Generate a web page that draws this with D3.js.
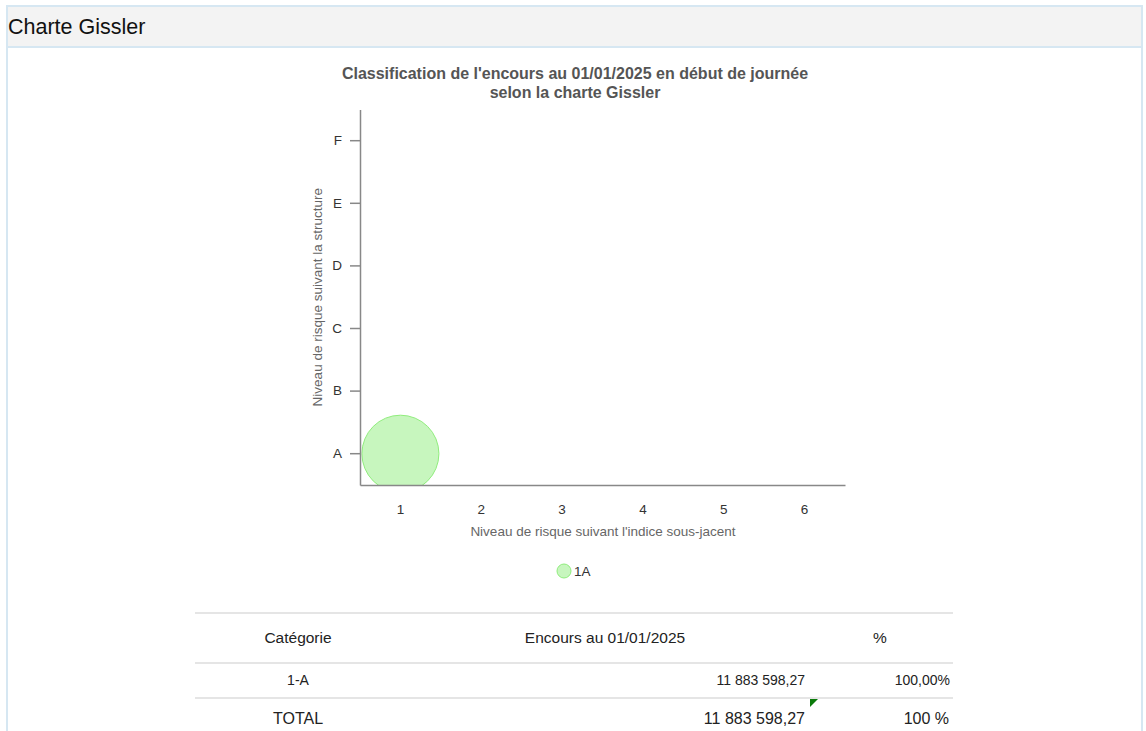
<!DOCTYPE html>
<html>
<head>
<meta charset="utf-8">
<script src="https://cdn.jsdelivr.net/npm/d3@7/dist/d3.min.js"></script>
<style>
  html, body { margin: 0; padding: 0; background: #fff; font-family: "Liberation Sans", Arial, sans-serif; }
  #panel { position: absolute; left: 6px; top: 5px; width: 1137px; height: 740px; border: 2px solid #d6e7f2; border-bottom: none; box-sizing: border-box; }
  #header { height: 39px; background: #f3f3f3; border-bottom: 2px solid #d6e7f2; font-size: 21.5px; color: #111; line-height: 40px; }
  #header span { position: relative; left: 0px; }
  svg { position: absolute; left: 0; top: 0; font-family: "Liberation Sans", Arial, sans-serif; }
</style>
</head>
<body>
<div id="panel"><div id="header"><span>Charte Gissler</span></div></div>
<svg id="chart" width="1146" height="731"></svg>
<script>
const titleLines = ["Classification de l'encours au 01/01/2025 en début de journée", "selon la charte Gissler"];
const xCategories = ["1", "2", "3", "4", "5", "6"];
const yCategories = ["A", "B", "C", "D", "E", "F"];
const xTitle = "Niveau de risque suivant l'indice sous-jacent";
const yTitle = "Niveau de risque suivant la structure";
const bubbleNames = ["1A"];
const bubbleX = ["1"];
const bubbleY = ["A"];
const bubbleValues = [11883598.27];
const tableHeaders = ["Catégorie", "Encours au 01/01/2025", "%"];
const tableCategories = ["1-A"];
const tableAmounts = ["11 883 598,27"];
const tablePercents = ["100,00%"];
const totalLabel = "TOTAL";
const totalAmount = "11 883 598,27";
const totalPercent = "100 %";

const FONT = "Liberation Sans, Arial, sans-serif";
const svg = d3.select("#chart");
const plot = { left: 360, right: 845, top: 109.4, bottom: 485 };

// Title
svg.append("g").selectAll("text").data(titleLines).join("text")
  .attr("x", 575).attr("y", (d, i) => 79 + i * 19)
  .attr("text-anchor", "middle").attr("font-size", 16).attr("font-weight", "bold")
  .attr("fill", "#555").text(d => d);

const x = d3.scaleBand().domain(xCategories).range([plot.left, plot.right]);
const y = d3.scaleBand().domain(yCategories).range([plot.bottom, plot.top]);
const r = d3.scaleSqrt().domain([0, d3.max(bubbleValues)]).range([0, 38.5]);

svg.append("clipPath").attr("id", "clip").append("rect")
  .attr("x", plot.left).attr("y", plot.top).attr("width", plot.right - plot.left).attr("height", plot.bottom - plot.top);

svg.append("g").attr("clip-path", "url(#clip)").selectAll("circle").data(bubbleValues).join("circle")
  .attr("cx", (d, i) => x(bubbleX[i]) + x.bandwidth() / 2)
  .attr("cy", (d, i) => y(bubbleY[i]) + y.bandwidth() / 2)
  .attr("r", d => r(d))
  .attr("fill", "#90ed7d").attr("fill-opacity", 0.5)
  .attr("stroke", "#90ed7d").attr("stroke-width", 1);

// X axis
const xAxis = svg.append("g").attr("transform", `translate(0,${plot.bottom})`)
  .call(d3.axisBottom(x).tickSize(0).tickPadding(19));
xAxis.select(".domain").attr("stroke", "#888").attr("stroke-width", 1.5);
xAxis.selectAll("text").attr("font-size", 13.5).attr("fill", "#333").attr("font-family", FONT);

// Y axis
const yAxis = svg.append("g").attr("transform", `translate(${plot.left},0)`)
  .call(d3.axisLeft(y).tickSize(10).tickPadding(8).tickSizeOuter(0));
yAxis.select(".domain").attr("stroke", "#888").attr("stroke-width", 1.5);
yAxis.selectAll(".tick line").attr("stroke", "#888").attr("stroke-width", 1.5);
yAxis.selectAll("text").attr("font-size", 13.5).attr("fill", "#333").attr("font-family", FONT);

// Axis titles
svg.append("text").attr("x", 603).attr("y", 536).attr("text-anchor", "middle")
  .attr("font-size", 13.5).attr("fill", "#666").text(xTitle);
svg.append("text").attr("transform", `translate(322,${(plot.top + plot.bottom) / 2}) rotate(-90)`)
  .attr("text-anchor", "middle").attr("font-size", 13.5).attr("fill", "#666").text(yTitle);

// Legend
const lg = svg.append("g").selectAll("g").data(bubbleNames).join("g")
  .attr("transform", "translate(564,571)");
lg.append("circle").attr("r", 7).attr("fill", "#90ed7d").attr("fill-opacity", 0.5).attr("stroke", "#90ed7d");
lg.append("text").attr("x", 10).attr("y", 5).attr("font-size", 13.5).attr("fill", "#333").text(d => d);

// Table
const tbl = svg.append("g");
const lineYs = [613, 663, 698];
tbl.selectAll("line").data(lineYs).join("line")
  .attr("x1", 195).attr("x2", 953).attr("y1", d => d).attr("y2", d => d)
  .attr("stroke", "#ddd").attr("stroke-width", 1.5);
const hx = [298, 605, 880];
tbl.append("g").selectAll("text").data(tableHeaders).join("text")
  .attr("x", (d, i) => hx[i]).attr("y", 643).attr("text-anchor", "middle")
  .attr("font-size", 15.5).attr("fill", "#222").text(d => d);
tableCategories.forEach((c, i) => {
  const yy = 685 + i * 35;
  tbl.append("text").attr("x", 298).attr("y", yy).attr("text-anchor", "middle").attr("font-size", 14).attr("fill", "#222").text(c);
  tbl.append("text").attr("x", 805).attr("y", yy).attr("text-anchor", "end").attr("font-size", 14).attr("fill", "#222").text(tableAmounts[i]);
  tbl.append("text").attr("x", 950).attr("y", yy).attr("text-anchor", "end").attr("font-size", 14).attr("fill", "#222").text(tablePercents[i]);
});
tbl.append("text").attr("x", 298).attr("y", 724).attr("text-anchor", "middle").attr("font-size", 16).attr("fill", "#222").text(totalLabel);
tbl.append("text").attr("x", 805).attr("y", 724).attr("text-anchor", "end").attr("font-size", 16).attr("fill", "#222").text(totalAmount);
tbl.append("text").attr("x", 949).attr("y", 724).attr("text-anchor", "end").attr("font-size", 16).attr("fill", "#222").text(totalPercent);
tbl.append("path").attr("d", "M810,699 L818,699 L810,707 Z").attr("fill", "#0a7a0a");
</script>
</body>
</html>
